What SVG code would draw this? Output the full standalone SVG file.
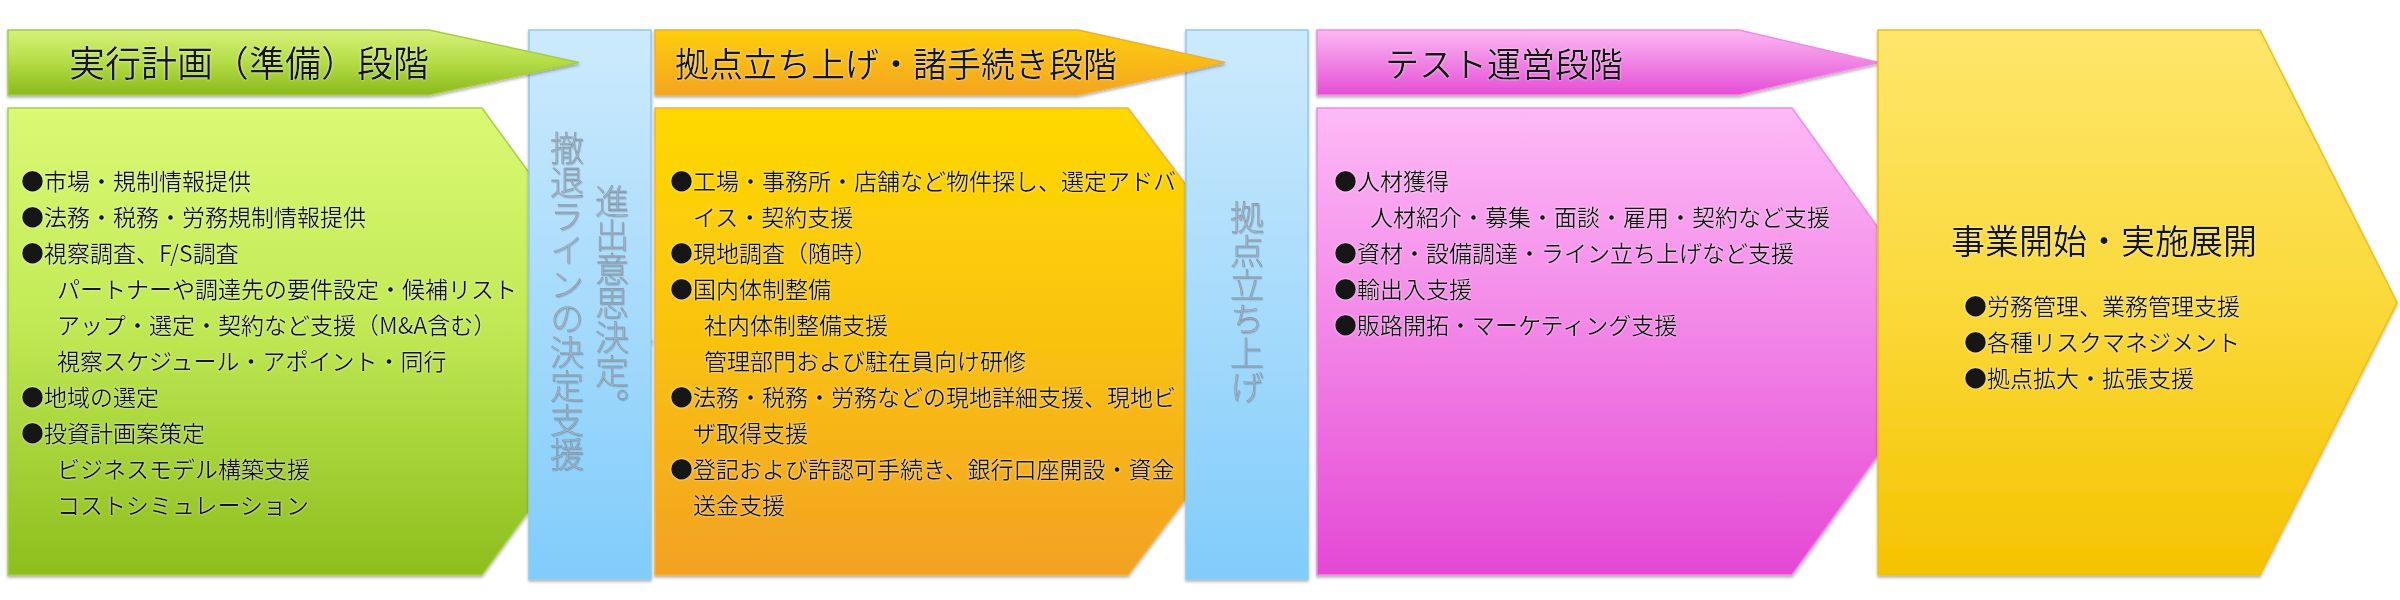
<svg xmlns="http://www.w3.org/2000/svg" width="2400" height="600" viewBox="0 0 2400 600">
<defs>
<linearGradient id="gGreenH" x1="0" y1="0" x2="0" y2="1"><stop offset="0" stop-color="#d6f27a"/><stop offset="0.5" stop-color="#b4dc45"/><stop offset="1" stop-color="#8aba1c"/></linearGradient>
<linearGradient id="gGreenB" x1="0" y1="0" x2="0" y2="1"><stop offset="0" stop-color="#daf974"/><stop offset="0.45" stop-color="#c2ea56"/><stop offset="1" stop-color="#8dbe1d"/></linearGradient>
<linearGradient id="gOrangeH" x1="0" y1="0" x2="0" y2="1"><stop offset="0" stop-color="#fdcf0c"/><stop offset="1" stop-color="#f4a422"/></linearGradient>
<linearGradient id="gOrangeB" x1="0" y1="0" x2="0" y2="1"><stop offset="0" stop-color="#ffd900"/><stop offset="0.5" stop-color="#f9c210"/><stop offset="1" stop-color="#f3a124"/></linearGradient>
<linearGradient id="gPinkH" x1="0" y1="0" x2="0" y2="1"><stop offset="0" stop-color="#fbb8f3"/><stop offset="1" stop-color="#e54ed5"/></linearGradient>
<linearGradient id="gPinkB" x1="0" y1="0" x2="0" y2="1"><stop offset="0" stop-color="#fdbaf6"/><stop offset="0.45" stop-color="#f389e8"/><stop offset="1" stop-color="#e548d4"/></linearGradient>
<linearGradient id="gYellow" x1="0" y1="0" x2="0" y2="1"><stop offset="0" stop-color="#fee66c"/><stop offset="0.5" stop-color="#fad93a"/><stop offset="1" stop-color="#f5c300"/></linearGradient>
<linearGradient id="gBlue" x1="0" y1="0" x2="0" y2="1"><stop offset="0" stop-color="#cdeafc"/><stop offset="1" stop-color="#80ccfb"/></linearGradient>
<filter id="sh" x="-5%" y="-5%" width="110%" height="115%"><feDropShadow dx="0" dy="2" stdDeviation="1.5" flood-color="#000" flood-opacity="0.3"/></filter>
<filter id="glow" x="-5%" y="-20%" width="110%" height="140%"><feGaussianBlur in="SourceAlpha" stdDeviation="1.3" result="b"/><feFlood flood-color="#ffffff" flood-opacity="0.75"/><feComposite in2="b" operator="in" result="w"/><feMerge><feMergeNode in="w"/><feMergeNode in="SourceGraphic"/></feMerge></filter>
<filter id="emb" x="-20%" y="-5%" width="140%" height="110%"><feDropShadow dx="0.8" dy="1.2" stdDeviation="0.5" flood-color="#2a3a4a" flood-opacity="0.25"/></filter>
</defs>
<style>
text{font-family:"Noto Sans CJK JP","Noto Sans CJK SC",sans-serif;}
.hd{font-size:34px;fill:#161616;filter:url(#glow);}
.bd{font-size:23px;fill:#161616;filter:url(#glow);}
.vt{font-size:34px;font-weight:300;writing-mode:vertical-rl;fill:#a3b4c4;stroke:#6b7d90;stroke-width:0.3px;filter:url(#emb);}
.shape{filter:url(#sh);}
</style>
<rect width="2400" height="600" fill="#ffffff"/>

<g id="body-planning">
<polygon class="shape" points="8,108 482,108 652,341.5 482,575 8,575" fill="url(#gGreenB)" stroke="#a8cf48" stroke-width="1.5"/>
<text class="bd" x="21" y="190">●市場・規制情報提供</text>
<text class="bd" x="21" y="226">●法務・税務・労務規制情報提供</text>
<text class="bd" x="21" y="262">●視察調査、F/S調査</text>
<text class="bd" x="57" y="298">パートナーや調達先の要件設定・候補リスト</text>
<text class="bd" x="57" y="334">アップ・選定・契約など支援（M&amp;A含む）</text>
<text class="bd" x="57" y="370">視察スケジュール・アポイント・同行</text>
<text class="bd" x="21" y="406">●地域の選定</text>
<text class="bd" x="21" y="442">●投資計画案策定</text>
<text class="bd" x="57" y="478">ビジネスモデル構築支援</text>
<text class="bd" x="57" y="514">コストシミュレーション</text>
</g>

<g id="body-setup">
<polygon class="shape" points="655,108 1128,108 1304,341.5 1128,575 655,575" fill="url(#gOrangeB)" stroke="#f2b23a" stroke-width="1.5"/>
<text class="bd" x="670" y="190">●工場・事務所・店舗など物件探し、選定アドバ</text>
<text class="bd" x="693" y="226">イス・契約支援</text>
<text class="bd" x="670" y="262">●現地調査（随時）</text>
<text class="bd" x="670" y="298">●国内体制整備</text>
<text class="bd" x="704" y="334">社内体制整備支援</text>
<text class="bd" x="704" y="370">管理部門および駐在員向け研修</text>
<text class="bd" x="670" y="406">●法務・税務・労務などの現地詳細支援、現地ビ</text>
<text class="bd" x="693" y="442">ザ取得支援</text>
<text class="bd" x="670" y="478">●登記および許認可手続き、銀行口座開設・資金</text>
<text class="bd" x="693" y="514">送金支援</text>
</g>

<g id="body-test">
<polygon class="shape" points="1317,108 1792,108 1960,341.5 1792,575 1317,575" fill="url(#gPinkB)" stroke="#f08ae6" stroke-width="1.5"/>
<text class="bd" x="1334" y="190">●人材獲得</text>
<text class="bd" x="1370" y="226">人材紹介・募集・面談・雇用・契約など支援</text>
<text class="bd" x="1334" y="262">●資材・設備調達・ライン立ち上げなど支援</text>
<text class="bd" x="1334" y="298">●輸出入支援</text>
<text class="bd" x="1334" y="334">●販路開拓・マーケティング支援</text>
</g>

<g id="decision-column">
<rect class="shape" x="529" y="30" width="122" height="549" fill="url(#gBlue)" stroke="#8ecaf0" stroke-width="1.5"/>
<text class="vt" x="612" y="184">進出意思決定。</text>
<text class="vt" x="567" y="131">撤退ラインの決定支援</text>
</g>

<g id="launch-column">
<rect class="shape" x="1186" y="30" width="122" height="549" fill="url(#gBlue)" stroke="#8ecaf0" stroke-width="1.5"/>
<text class="vt" x="1247" y="200">拠点立ち上げ</text>
</g>

<g id="header-planning">
<polygon class="shape" points="8,30 429,30 579,62.5 429,95 8,95" fill="url(#gGreenH)" stroke="#a6cc44" stroke-width="1.5"/>
<text class="hd" x="69" y="77" style="font-size:36px">実行計画（準備）段階</text>
</g>

<g id="header-setup">
<polygon class="shape" points="655,30 1078,30 1225,62.5 1078,95 655,95" fill="url(#gOrangeH)" stroke="#f2ae30" stroke-width="1.5"/>
<text class="hd" x="675" y="77">拠点立ち上げ・諸手続き段階</text>
</g>

<g id="header-test">
<polygon class="shape" points="1317,30 1739,30 1879,62.5 1739,95 1317,95" fill="url(#gPinkH)" stroke="#f08ae6" stroke-width="1.5"/>
<text class="hd" x="1385" y="77">テスト運営段階</text>
</g>

<g id="business-start">
<polygon class="shape" points="1878,30 2260,30 2397,302.5 2260,575 1878,575" fill="url(#gYellow)" stroke="#f0c010" stroke-width="1.5"/>
<text class="hd" x="2104" y="254" text-anchor="middle">事業開始・実施展開</text>
<text class="bd" x="1964" y="315">●労務管理、業務管理支援</text>
<text class="bd" x="1964" y="351">●各種リスクマネジメント</text>
<text class="bd" x="1964" y="387">●拠点拡大・拡張支援</text>
</g>

<g id="connectors"></g>
</svg>
